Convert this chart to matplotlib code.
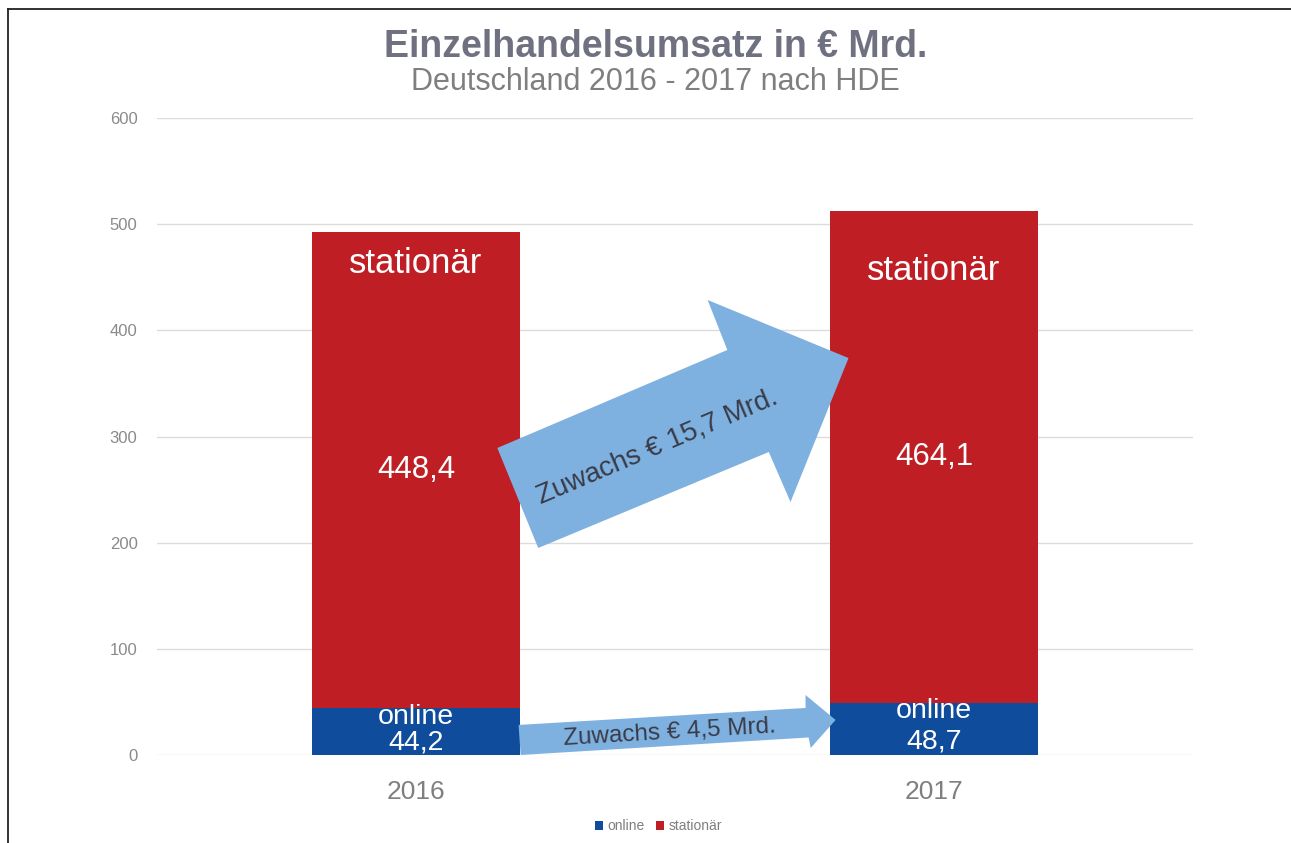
import matplotlib.pyplot as plt
from matplotlib.patches import Polygon
from matplotlib.lines import Line2D

# Daten (Einzelhandelsumsatz in Mrd. Euro)
jahre = ["2016", "2017"]
online = [44.2, 48.7]
stationaer = [448.4, 464.1]
online_txt = ["44,2", "48,7"]
stationaer_txt = ["448,4", "464,1"]
zuwachs_txt = ["Zuwachs € 15,7 Mrd.", "Zuwachs € 4,5 Mrd."]
y_ticks = [0, 100, 200, 300, 400, 500, 600]

# Farben
rot = "#be1e24"
blau = "#0f4c9b"
pfeil_farbe = "#7eb1df"
grau = "#7f7f7f"
titel_farbe = "#6f7080"

plt.rcParams['font.family'] = ['Liberation Sans', 'DejaVu Sans']

fig = plt.figure(figsize=(12.91, 8.43), dpi=100)
ax = fig.add_axes([0.1216, 0.1044, 0.8025, 0.7556])

x = list(range(len(jahre)))
b1 = ax.bar(x, online, width=0.4, color=blau, label="online", zorder=2)
b2 = ax.bar(x, stationaer, width=0.4, bottom=online, color=rot, label="stationär", zorder=2)

ax.set_xlim(-0.5, 1.5)
ax.set_ylim(0, 600)
ax.set_yticks(y_ticks)
ax.set_xticks(x)
ax.set_xticklabels(jahre)
ax.tick_params(axis='y', length=0, labelsize=12, labelcolor="#8a8a8a", pad=14)
ax.tick_params(axis='x', length=0, labelsize=19, labelcolor=grau, pad=18)
ax.grid(axis='y', color="#dcdcdc", linewidth=1, zorder=0)
for s in ax.spines.values():
    s.set_visible(False)

# Beschriftungen in den Balken
lbl_stat_y = [463, 456]
lbl_onl_y = [35.5, 41.0]
lbl_onlwert_y = [12.0, 13.0]
for i in x:
    mitte = online[i] + stationaer[i] / 2
    ax.text(i, lbl_stat_y[i], "stationär", color="white", fontsize=25, ha='center', va='center', zorder=3)
    ax.text(i, mitte, stationaer_txt[i], color="white", fontsize=22.5, ha='center', va='center', zorder=3)
    ax.text(i, lbl_onl_y[i], "online", color="white", fontsize=20.5, ha='center', va='center', zorder=3)
    ax.text(i, lbl_onlwert_y[i], online_txt[i], color="white", fontsize=20.5, ha='center', va='center', zorder=3)

# Pfeile (Zuwachs)
pfeil_gross = [(0.157, 289.2), (0.601, 381.5), (0.563, 428.6), (0.835, 373.9),
               (0.723, 238.3), (0.681, 285.4), (0.236, 195.0)]
pfeil_klein = [(0.198, 28.3), (0.752, 44.3), (0.752, 56.5), (0.810, 33.0),
               (0.762, 6.6), (0.758, 16.5), (0.202, 0.0)]
ax.add_patch(Polygon(pfeil_gross, closed=True, facecolor=pfeil_farbe, edgecolor='none', zorder=4))
ax.add_patch(Polygon(pfeil_klein, closed=True, facecolor=pfeil_farbe, edgecolor='none', zorder=4))
ax.text(0.466, 290.1, zuwachs_txt[0], rotation=23, color="#3a3b48", fontsize=20,
        ha='center', va='center', rotation_mode='anchor', zorder=5)
ax.text(0.489, 20.7, zuwachs_txt[1], rotation=3.4, color="#3a3b48", fontsize=17.5,
        ha='center', va='center', rotation_mode='anchor', zorder=5)

# Titel
fig.text(0.508, 1 - 47 / 843, "Einzelhandelsumsatz in € Mrd.", fontsize=27, fontweight='bold',
         color=titel_farbe, ha='center', va='center')
fig.text(0.508, 1 - 82 / 843, "Deutschland 2016 - 2017 nach HDE", fontsize=22,
         color=grau, ha='center', va='center')

# Legende
fig.legend(handles=[b1, b2], loc='center', bbox_to_anchor=(0.51, 1 - 826 / 843), ncol=2,
           frameon=False, fontsize=10, labelcolor=grau, handlelength=0.6, handleheight=0.6,
           handletextpad=0.3, columnspacing=0.8)

# Rahmen oben und links
fig.add_artist(Line2D([8 / 1291, 1], [1 - 9 / 843, 1 - 9 / 843], color="#222222", linewidth=1.3))
fig.add_artist(Line2D([8 / 1291, 8 / 1291], [0, 1 - 9 / 843], color="#222222", linewidth=1.3))

fig.savefig("out.png", dpi=100)
